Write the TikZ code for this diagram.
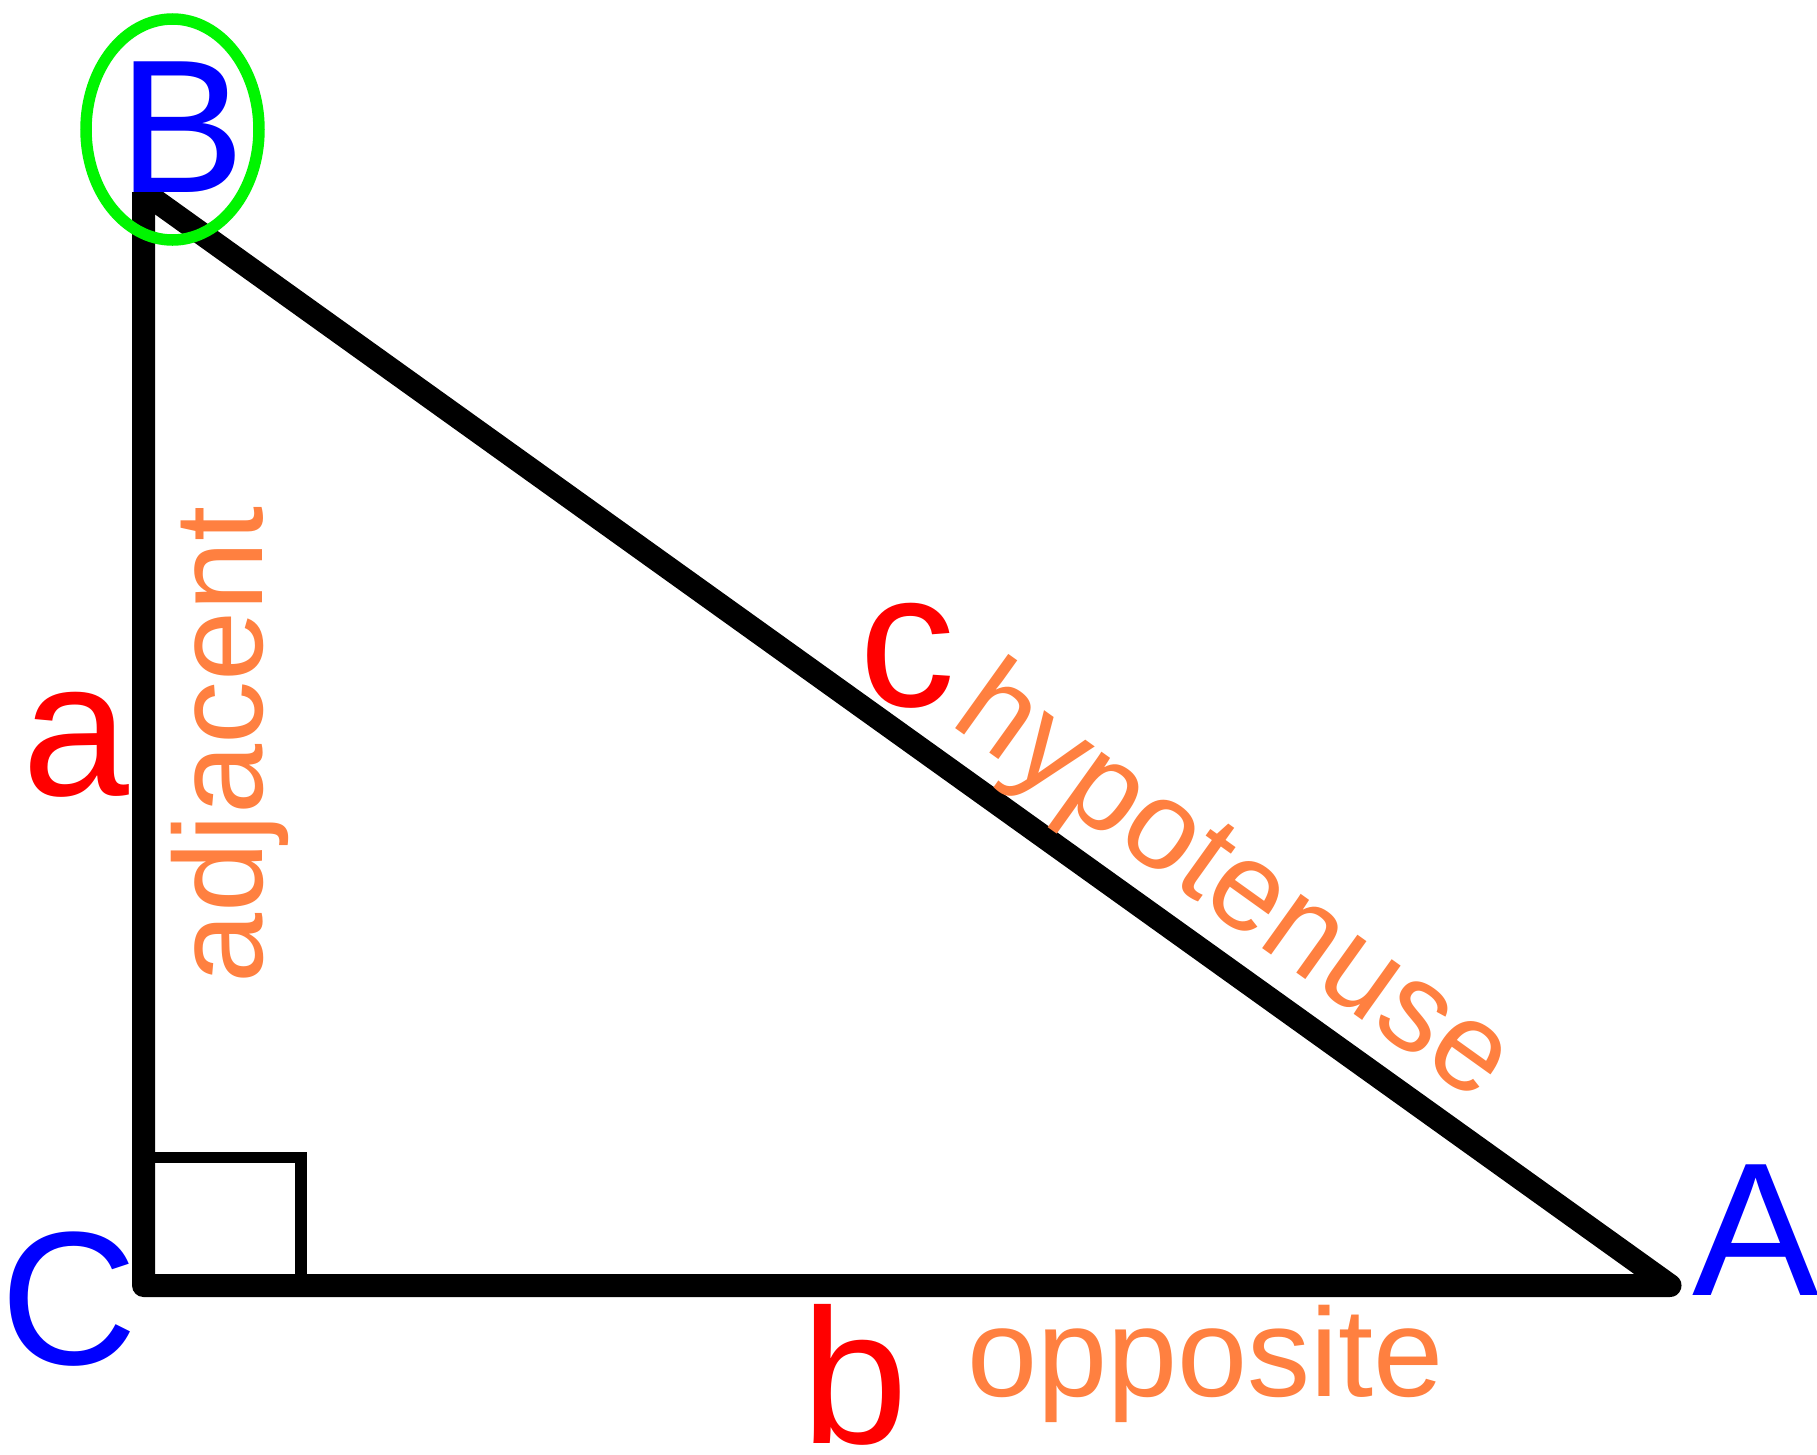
\documentclass[tikz,border=0pt]{standalone}
\usepackage{fontspec}
\setmainfont{Liberation Sans}
\definecolor{lblue}{RGB}{0,0,255}
\definecolor{lred}{RGB}{255,0,0}
\definecolor{lorange}{RGB}{255,128,64}
\definecolor{lgreen}{RGB}{0,245,0}
\tikzset{
  vertexlbl/.style={text=lblue, inner sep=0pt, outer sep=0pt, anchor=base west, font=\fontsize{190}{190}\selectfont},
  sidelbl/.style={text=lred, inner sep=0pt, outer sep=0pt, anchor=base west, font=\fontsize{192}{192}\selectfont},
  namelbl/.style={text=lorange, inner sep=0pt, outer sep=0pt, anchor=base west, font=\fontsize{126}{126}\selectfont},
  edgeline/.style={line width=23pt, line join=round},
  rightmark/.style={line width=11.5pt},
  highlight/.style={draw=lgreen, line width=11.5pt}
}
\begin{document}
\begin{tikzpicture}[x=1pt,y=-1pt]
\useasboundingbox (0,0) rectangle (1817,1454);
\fill[white] (0,0) rectangle (1817,1454);
% vertices
\coordinate (pB) at (143.5,192);
\coordinate (pC) at (143.5,1285.5);
\coordinate (pA) at (1670,1285.5);
% right-angle mark corners
\coordinate (m1) at (143.5,1157.5);
\coordinate (m2) at (301,1157.5);
\coordinate (m3) at (301,1285.5);
% triangle
\begin{scope}
  \clip (0,192) rectangle (1817,1454);
  \draw[edgeline] (pB) -- (pC) -- (pA) -- (pB);
\end{scope}
\draw[rightmark] (m1) -- (m2) -- (m3);
% vertex labels
\node[vertexlbl] (lB) at (118,192.5) {B};
\node[vertexlbl] (lC) at (0.5,1364.5) {C};
\node[vertexlbl] (lA) at (1692,1295) {A};
% side labels
\node[sidelbl] (la) at (23,795) {a};
\node[sidelbl] (lc) at (859.5,706) {c};
\node[sidelbl] (lb) at (801,1443) {b};
% side names
\node[namelbl, rotate=90] (nadj) at (262,983) {adjacent};
\node[namelbl, rotate=-35.62] (nhyp) at (948.2,723.5) {hypotenuse};
\node[namelbl] (nopp) at (967,1396.5) {opposite};
% highlight ring around B
\draw[highlight] (172.5,129.5) ellipse [x radius=86.5, y radius=110.5];
\end{tikzpicture}
\end{document}
